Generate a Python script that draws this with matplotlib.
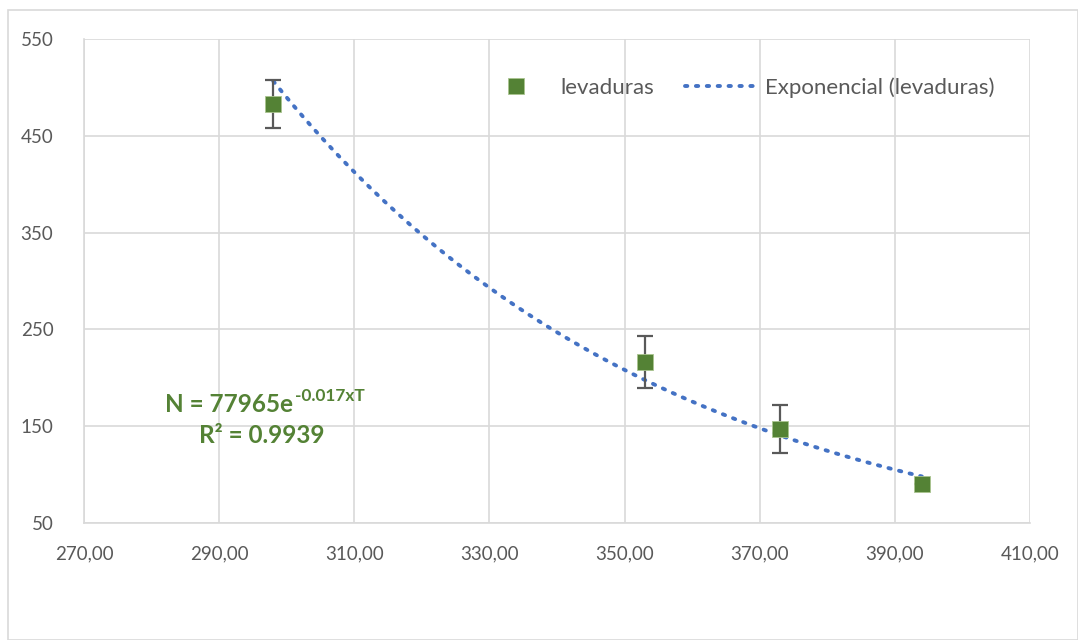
import matplotlib
matplotlib.use("Agg")
import matplotlib.pyplot as plt
from matplotlib.patches import Rectangle
from matplotlib.ticker import FuncFormatter
import numpy as np

# --- data ---
temp_k = [298, 353, 373, 394]
levaduras = [483, 216, 147, 90]
err = [25, 27, 25, 0]

x_ticks = [270, 290, 310, 330, 350, 370, 390, 410]
y_ticks = [50, 150, 250, 350, 450, 550]

green = "#548235"
blue = "#4472C4"
grid_c = "#d9d9d9"
text_c = "#595959"

plt.rcParams["font.family"] = ["Lato", "DejaVu Sans"]

fig = plt.figure(figsize=(10.78, 6.4), dpi=100)
# outer chart frame
fig.patches.append(Rectangle((8 / 1078, 0), 1 - 8 / 1078, 1 - 10 / 640, transform=fig.transFigure,
                             fill=False, edgecolor=grid_c, linewidth=1.2))

ax = fig.add_axes([84 / 1078, 1 - 523 / 640, (1030 - 84) / 1078, (523 - 39) / 640])

# exponential trendline fitted to the points
b, ln_a = np.polyfit(temp_k, np.log(levaduras), 1)
xt = np.linspace(temp_k[0], temp_k[-1], 200)
ax.plot(xt, np.exp(ln_a) * np.exp(b * xt), linestyle=(0, (0.6, 2.2)), color=blue,
        linewidth=2.8, dash_capstyle="round", label="Exponencial (levaduras)", zorder=3)

# error bars, then the markers on top
ax.errorbar(temp_k, levaduras, yerr=err, fmt="none", ecolor="#595959",
            elinewidth=1.6, capsize=6, capthick=1.6, zorder=4)
ax.plot(temp_k, levaduras, "s", color=green, markersize=11, markeredgecolor="#a9c48f",
        markeredgewidth=0.6, label="levaduras", zorder=5)

ax.set_xlim(270, 410)
ax.set_ylim(50, 550)
ax.set_xticks(x_ticks)
ax.set_yticks(y_ticks)
ax.xaxis.set_major_formatter(FuncFormatter(lambda v, p: f"{v:.2f}".replace(".", ",")))
ax.grid(True, color=grid_c, linewidth=1.2)
ax.set_axisbelow(True)
for s in ["top", "right"]:
    ax.spines[s].set_visible(False)
for s in ["left", "bottom"]:
    ax.spines[s].set_color(grid_c)
    ax.spines[s].set_linewidth(1.2)
ax.tick_params(length=0, labelsize=13.5, colors=text_c)
ax.tick_params(axis="x", pad=16)
ax.tick_params(axis="y", pad=22)

handles, labels = ax.get_legend_handles_labels()
leg = ax.legend(handles[::-1], labels[::-1], loc="center right", bbox_to_anchor=(0.963, 0.899),
                ncol=2, frameon=False, fontsize=16, labelcolor=text_c, borderpad=0,
                borderaxespad=0, handlelength=3.2, columnspacing=1.4, handletextpad=0.4)

# equation and R^2
ax.text(0.221, 0.229, "N = 77965e", transform=ax.transAxes, ha="right", va="baseline",
        fontsize=17.5, fontweight="bold", color=green)
ax.text(0.223, 0.252, "-0.017xT", transform=ax.transAxes, ha="left", va="baseline",
        fontsize=12.4, fontweight="bold", color=green)
ax.text(0.188, 0.165, "R² = 0.9939", transform=ax.transAxes, ha="center", va="baseline",
        fontsize=17.5, fontweight="bold", color=green)

fig.savefig("out.png", dpi=100)
